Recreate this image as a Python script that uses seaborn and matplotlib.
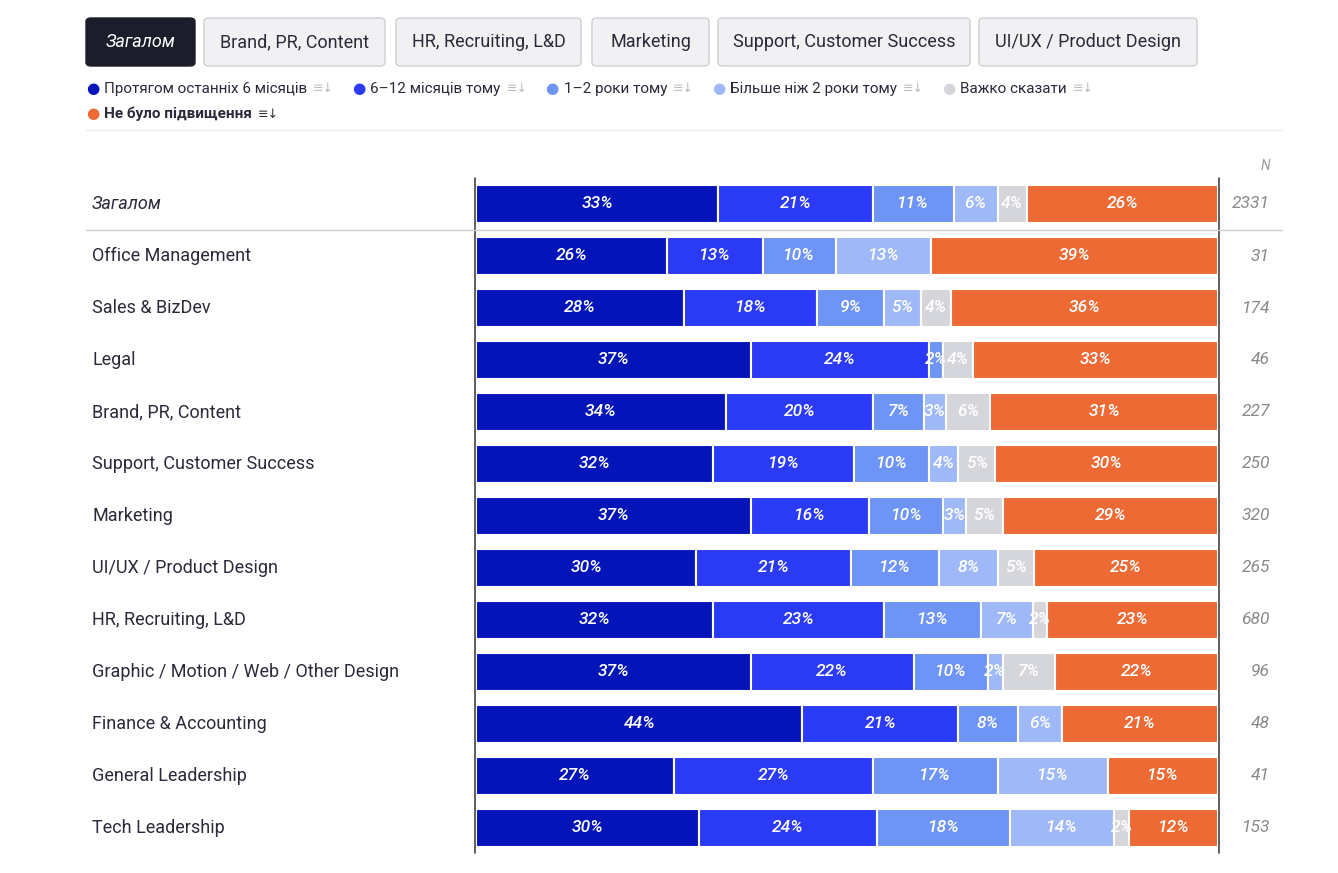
import numpy as np
import seaborn as sns
import matplotlib.pyplot as plt
from matplotlib.patches import FancyBboxPatch

categories = ["Загалом", "Office Management", "Sales & BizDev", "Legal", "Brand, PR, Content",
              "Support, Customer Success", "Marketing", "UI/UX / Product Design",
              "HR, Recruiting, L&D", "Graphic / Motion / Web / Other Design",
              "Finance & Accounting", "General Leadership", "Tech Leadership"]
n_values = [2331, 31, 174, 46, 227, 250, 320, 265, 680, 96, 48, 41, 153]
series = ["Протягом останніх 6 місяців", "6–12 місяців тому", "1–2 роки тому",
          "Більше ніж 2 роки тому", "Важко сказати", "Не було підвищення"]
last6 = [33, 26, 28, 37, 34, 32, 37, 30, 32, 37, 44, 27, 30]
m6_12 = [21, 13, 18, 24, 20, 19, 16, 21, 23, 22, 21, 27, 24]
y1_2 = [11, 10, 9, 2, 7, 10, 10, 12, 13, 10, 8, 17, 18]
y2plus = [6, 13, 5, 0, 3, 4, 3, 8, 7, 2, 6, 15, 14]
hard = [4, 0, 4, 4, 6, 5, 5, 5, 2, 7, 0, 0, 2]
no_raise = [26, 39, 36, 33, 31, 30, 29, 25, 23, 22, 21, 15, 12]
tabs = ["Загалом", "Brand, PR, Content", "HR, Recruiting, L&D", "Marketing",
        "Support, Customer Success", "UI/UX / Product Design"]
colors = ["#0314B8", "#2B3AF5", "#6E95F5", "#9FB8F8", "#D5D6DC", "#EE6A35"]

sns.set_theme(style="white")
plt.rcParams['font.family'] = ['Roboto', 'DejaVu Sans']

W, H = 1338, 873
fig = plt.figure(figsize=(W / 100, H / 100), dpi=100)

def fx(px):
    return px / W

def fy(py):
    return 1 - py / H

top = 204 - 26
bot = 204 + 52 * 12 + 26
ax = fig.add_axes([fx(476), fy(bot), fx(1218) - fx(476), (bot - top) / H])
raw_all = [last6, m6_12, y1_2, y2plus, hard, no_raise]
data = np.array(raw_all, dtype=float)
data = data / data.sum(axis=0) * 100
left = np.zeros(len(categories))
ypos = np.arange(len(categories))
for k in range(6):
    ax.barh(ypos, data[k], left=left, height=0.73, color=colors[k], edgecolor="white", linewidth=1.5)
    for i in range(len(categories)):
        raw = raw_all[k][i]
        if raw > 0:
            ax.text(left[i] + data[k][i] / 2, i, f"{raw}%", ha="center", va="center",
                    color="white", fontsize=12.5, style="italic", weight="medium")
    left += data[k]
ax.set_xlim(0, 100)
ax.set_ylim(len(categories) - 0.5, -0.5)
ax.axis("off")

for i, (c, n) in enumerate(zip(categories, n_values)):
    y = fy(204 + 52 * i)
    fig.text(fx(92), y, c, ha="left", va="center", fontsize=13, color="#2a2a3a",
             style="italic" if i == 0 else "normal")
    fig.text(fx(1270), y, str(n), ha="right", va="center", fontsize=12.5, color="#888888", style="italic")
fig.text(fx(1270), fy(166), "N", ha="right", va="center", fontsize=10, color="#999999", style="italic")

fig.add_artist(plt.Line2D([fx(475)] * 2, [fy(178), fy(853)], color="#444444", lw=1.2))
fig.add_artist(plt.Line2D([fx(1219)] * 2, [fy(178), fy(853)], color="#444444", lw=1.2))
fig.add_artist(plt.Line2D([fx(86), fx(1282)], [fy(230)] * 2, color="#cccccc", lw=1))
fig.add_artist(plt.Line2D([fx(86), fx(1282)], [fy(130)] * 2, color="#eeeeee", lw=1))

tab_x = [(86, 195), (204, 385), (396, 581), (592, 709), (718, 970), (979, 1197)]
for i, (t, (x0, x1)) in enumerate(zip(tabs, tab_x)):
    active = i == 0
    box = FancyBboxPatch((fx(x0), fy(66)), fx(x1 - x0), (66 - 18) / H,
                         boxstyle="round,pad=0,rounding_size=0.004", transform=fig.transFigure,
                         facecolor="#1b1d2b" if active else "#f1f1f3",
                         edgecolor="#1b1d2b" if active else "#cfcfd4", lw=1)
    fig.add_artist(box)
    fig.text(fx((x0 + x1) / 2), fy(42), t, ha="center", va="center", fontsize=13,
             color="white" if active else "#2a2a3a", style="italic" if active else "normal")

# legend laid out left to right
renderer = fig.canvas.get_renderer()
x, y = 86, 89
for i, s in enumerate(series):
    if i == 5:
        x, y = 86, 114
    fig.text(fx(x), fy(y), "●", ha="left", va="center", fontsize=11, color=colors[i])
    t = fig.text(fx(x + 18), fy(y), s, ha="left", va="center", fontsize=11, color="#2a2a3a",
                 weight="bold" if i == 5 else "normal")
    x1 = t.get_window_extent(renderer).x1
    ic = fig.text(fx(x1 + 6), fy(y), "≡↓", ha="left", va="center", fontsize=9,
                  color="#333333" if i == 5 else "#bbbbbb", family="DejaVu Sans")
    x = ic.get_window_extent(renderer).x1 + 18

fig.savefig("out.png", dpi=100)
